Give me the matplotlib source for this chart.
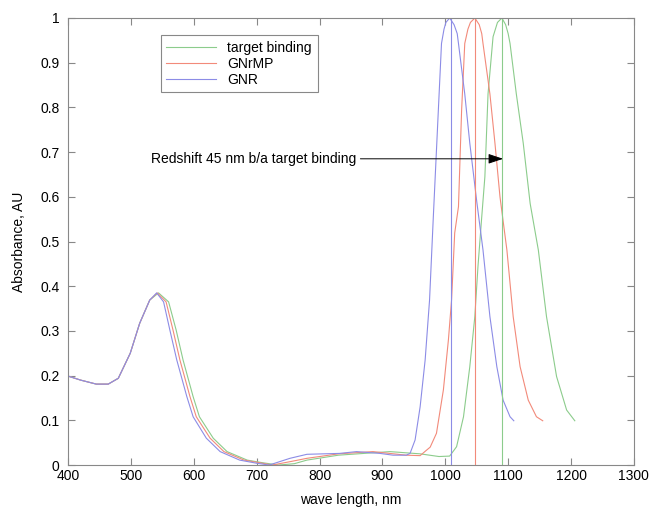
import matplotlib
matplotlib.use("Agg")
import matplotlib.pyplot as plt

plt.rcParams['font.family'] = ['Liberation Sans', 'DejaVu Sans']

# GNR (blue)
gnr_x = [400, 420, 445, 464, 480, 499, 514, 530, 541, 552, 562, 573, 589, 599,
         620, 642, 673, 700, 720, 753, 780, 832, 859, 896, 917, 938, 944, 952,
         960, 968, 975, 981, 989, 994, 998, 1001, 1007, 1014, 1019, 1021, 1031,
         1039, 1050, 1060, 1071, 1082, 1092, 1103, 1109]
gnr_y = [0.199, 0.19, 0.181, 0.181, 0.194, 0.25, 0.317, 0.369, 0.385, 0.365,
         0.302, 0.235, 0.153, 0.108, 0.06, 0.03, 0.011, 0.004, 0.0, 0.015, 0.024,
         0.026, 0.03, 0.026, 0.022, 0.022, 0.026, 0.056, 0.13, 0.235, 0.369,
         0.555, 0.794, 0.943, 0.975, 0.99, 1.0, 0.985, 0.965, 0.943, 0.83, 0.72,
         0.59, 0.481, 0.332, 0.22, 0.145, 0.108, 0.099]

# GNrMP (red)
gnrmp_x = [400, 420, 445, 464, 480, 499, 514, 530, 542, 556, 567, 578, 594, 604,
           626, 648, 680, 705, 725, 755, 780, 830, 885, 938, 960, 970, 976, 986,
           997, 1005, 1010, 1015, 1021, 1026, 1031, 1036, 1040, 1047, 1054, 1058,
           1060, 1071, 1079, 1087, 1098, 1108, 1119, 1132, 1145, 1155]
gnrmp_y = [0.199, 0.19, 0.181, 0.181, 0.194, 0.25, 0.317, 0.369, 0.385, 0.365,
           0.302, 0.235, 0.153, 0.108, 0.06, 0.03, 0.011, 0.005, 0.0, 0.008,
           0.015, 0.025, 0.03, 0.022, 0.021, 0.033, 0.04, 0.071, 0.168, 0.28,
           0.369, 0.519, 0.578, 0.794, 0.943, 0.975, 0.99, 1.0, 0.985, 0.965,
           0.943, 0.83, 0.72, 0.6, 0.481, 0.332, 0.22, 0.145, 0.108, 0.099]

# target binding (green)
target_x = [400, 420, 445, 464, 480, 499, 514, 530, 544, 560, 572, 583, 599, 609,
            631, 653, 685, 710, 735, 760, 780, 830, 912, 960, 990, 1007, 1018,
            1029, 1039, 1047, 1052, 1058, 1063, 1068, 1076, 1083, 1090, 1096,
            1100, 1103, 1113, 1124, 1135, 1148, 1161, 1177, 1193, 1206]
target_y = [0.199, 0.19, 0.181, 0.181, 0.194, 0.25, 0.317, 0.369, 0.385, 0.365,
            0.302, 0.235, 0.153, 0.108, 0.06, 0.03, 0.011, 0.005, 0.0, 0.003,
            0.011, 0.022, 0.03, 0.025, 0.019, 0.02, 0.041, 0.108, 0.22, 0.332,
            0.444, 0.555, 0.645, 0.83, 0.958, 0.99, 1.0, 0.985, 0.965, 0.943,
            0.83, 0.72, 0.585, 0.481, 0.332, 0.198, 0.123, 0.099]

# peak marker lines
peak_pos = [1091, 1048, 1009]
labels = ['target binding', 'GNrMP', 'GNR']
colors = ['#8ccc8c', '#f28a7a', '#8c8ce6']

x_ticks = list(range(400, 1301, 100))
y_ticks = [0, 0.1, 0.2, 0.3, 0.4, 0.5, 0.6, 0.7, 0.8, 0.9, 1]
y_tick_labels = ['0', '0.1', '0.2', '0.3', '0.4', '0.5', '0.6', '0.7', '0.8', '0.9', '1']

fig = plt.figure(figsize=(6.55, 5.08), dpi=100)
ax = fig.add_axes([0.1038, 0.0846, 0.864, 0.88])

series = [(target_x, target_y), (gnrmp_x, gnrmp_y), (gnr_x, gnr_y)]
for (xs, ys), lab, col in zip(series, labels, colors):
    ax.plot(xs, ys, color=col, lw=0.8, label=lab)
for pos, col in zip(peak_pos, colors):
    ax.vlines(pos, 0, 1, color=col, lw=0.8)

ax.annotate('Redshift 45 nm b/a target binding', xy=(1092, 0.685), xytext=(532, 0.685),
            ha='left', va='center', fontsize=10,
            arrowprops=dict(arrowstyle='-|>,head_length=0.9,head_width=0.3',
                            color='black', lw=0.7, shrinkA=1, shrinkB=0))

ax.set_xlim(400, 1300)
ax.set_ylim(0, 1)
ax.set_xticks(x_ticks)
ax.set_yticks(y_ticks)
ax.set_yticklabels(y_tick_labels)
ax.tick_params(direction='in', top=True, right=True, length=5, color='#888888',
               labelsize=10, labelcolor='black')
ax.tick_params(axis='y', pad=6)
ax.tick_params(axis='x', pad=3)
for s in ax.spines.values():
    s.set_color('#888888')
    s.set_linewidth(0.8)

ax.set_xlabel('wave length, nm', fontsize=10, labelpad=7)
ax.set_ylabel('Absorbance, AU', fontsize=10, labelpad=10)

leg = ax.legend(loc='upper left', bbox_to_anchor=(0.164, 0.962), borderaxespad=0,
                fontsize=10, fancybox=False, framealpha=1, edgecolor='#888888',
                handlelength=3.6, labelspacing=0.15, borderpad=0.4)
leg.get_frame().set_linewidth(0.8)

fig.savefig('out.png', dpi=100)
